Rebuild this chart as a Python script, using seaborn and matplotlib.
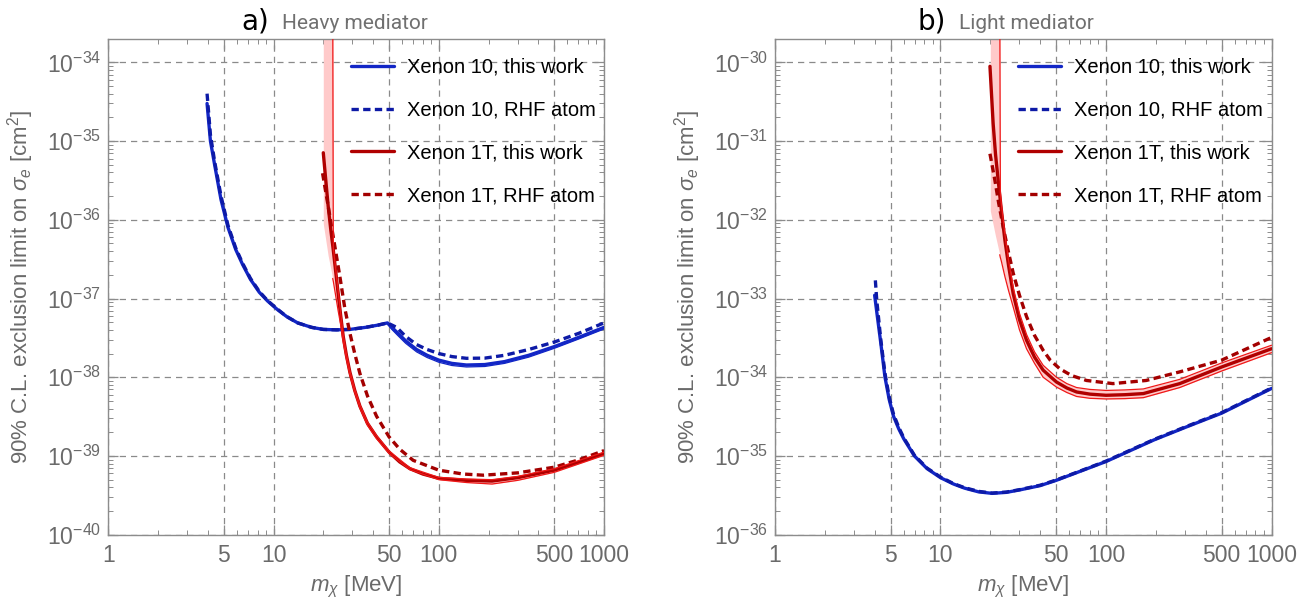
import matplotlib
matplotlib.use('Agg')
import matplotlib.pyplot as plt
import seaborn as sns
from matplotlib.ticker import LogLocator, NullFormatter

sns.set_style('ticks')
plt.rcParams['font.family'] = ['Liberation Sans', 'DejaVu Sans']
plt.rcParams['mathtext.fontset'] = 'custom'
plt.rcParams['mathtext.rm'] = 'Liberation Sans'
plt.rcParams['mathtext.it'] = 'Liberation Sans:italic'
plt.rcParams['mathtext.bf'] = 'Liberation Sans:bold'

# %% data (m_chi in MeV, sigma_e in cm^2)
# ---- a) heavy mediator
h_x10_m = [3.96, 4.15, 4.4, 4.81, 5.3, 5.9, 6.5, 7.25, 8.2, 9.2, 10.5, 12, 14, 17, 20, 24, 29, 36, 43, 48.9,
           52, 56, 63, 73.4, 85, 100, 120, 147, 190, 250, 350, 500, 700, 1000]
h_x10_s = [3.0e-35, 1.0e-35, 5.0e-36, 1.8e-36, 8.0e-37, 4.2e-37, 2.7e-37, 1.75e-37, 1.2e-37, 9.3e-38,
           7.3e-38, 5.9e-38, 4.9e-38, 4.3e-38, 4.05e-38, 4.0e-38, 4.05e-38, 4.3e-38, 4.6e-38, 4.9e-38,
           4.3e-38, 3.7e-38, 2.9e-38, 2.25e-38, 1.9e-38, 1.65e-38, 1.5e-38, 1.43e-38, 1.45e-38, 1.58e-38,
           1.9e-38, 2.45e-38, 3.2e-38, 4.3e-38]
h_x10_lo_m = [48.9, 52, 56, 63, 73.4, 85, 100, 120, 147, 190, 250, 350, 500, 700, 1000]
h_x10_lo_s = [4.75e-38, 4.05e-38, 3.45e-38, 2.7e-38, 2.1e-38, 1.78e-38, 1.55e-38, 1.41e-38, 1.35e-38,
              1.37e-38, 1.5e-38, 1.8e-38, 2.33e-38, 3.05e-38, 4.1e-38]
h_x10_rhf_m = [3.96, 4.15, 4.4, 4.81, 5.3, 5.9, 6.5, 7.25, 8.2, 9.2, 10.5, 12, 14, 17, 20, 24, 29, 36, 43,
               48.9, 55.6, 63, 73.4, 85, 100, 120, 147, 190, 250, 350, 500, 700, 1000]
h_x10_rhf_s = [4.0e-35, 1.2e-35, 5.5e-36, 2.0e-36, 8.5e-37, 4.4e-37, 2.8e-37, 1.8e-37, 1.23e-37, 9.4e-38,
               7.4e-38, 5.9e-38, 4.9e-38, 4.3e-38, 4.05e-38, 4.0e-38, 4.05e-38, 4.3e-38, 4.6e-38, 4.9e-38,
               4.3e-38, 3.3e-38, 2.6e-38, 2.25e-38, 2.0e-38, 1.83e-38, 1.74e-38, 1.75e-38, 1.9e-38,
               2.25e-38, 2.8e-38, 3.6e-38, 4.9e-38]

h_x1t_m = [20, 20.7, 21.4, 22.2, 23, 24.6, 25.5, 26.4, 27.6, 29, 31, 33.3, 37, 42, 50, 58, 66.8, 80, 100,
           147, 210, 300, 500, 700, 1000]
h_x1t_s = [7.1e-36, 3.2e-36, 1.5e-36, 7.5e-37, 4.1e-37, 1.16e-37, 6.0e-38, 3.3e-38, 1.9e-38, 1.15e-38,
           6.8e-39, 4.3e-39, 2.6e-39, 1.75e-39, 1.12e-39, 8.4e-40, 6.9e-40, 5.9e-40, 5.2e-40,
           4.9e-40, 4.8e-40, 5.3e-40, 6.6e-40, 8.3e-40, 1.07e-39]
h_band_m = [20, 21.4, 22.8, 23.0, 24.6, 25.5, 26.4, 27.6, 29, 31, 33.3, 37, 42, 50, 66.8, 100, 147, 210,
            300, 500, 1000]
h_band_hi = [1e-33, 1e-33, 1e-33, 4.4e-37, 1.25e-37, 6.4e-38, 3.5e-38, 2.0e-38, 1.2e-38, 7.1e-39, 4.5e-39,
             2.7e-39, 1.82e-39, 1.16e-39, 7.1e-40, 5.35e-40, 5.1e-40, 5.0e-40, 5.5e-40, 6.9e-40, 1.12e-39]
h_band_lo = [8.9e-37, 3.5e-37, 1.8e-37, 1.65e-37, 7.0e-38, 4.6e-38, 2.8e-38, 1.7e-38, 1.05e-38, 6.4e-39,
             4.05e-39, 2.45e-39, 1.66e-39, 1.08e-39, 6.7e-40, 5.0e-40, 4.6e-40, 4.4e-40, 4.9e-40, 6.2e-40,
             1.02e-39]
h_x1t_rhf_m = [19.8, 21.4, 23, 25.2, 27, 29, 31, 33.3, 37, 42, 50, 58, 70, 100, 140, 186, 300, 500, 700, 1000]
h_x1t_rhf_s = [3.9e-36, 1.5e-36, 6.0e-37, 1.9e-37, 7.5e-38, 3.6e-38, 2.0e-38, 1.12e-38, 5.8e-39, 3.2e-39,
               1.75e-39, 1.22e-39, 8.8e-40, 6.6e-40, 5.9e-40, 5.7e-40, 6.1e-40, 7.2e-40, 8.9e-40, 1.17e-39]

# ---- b) light mediator
l_x10_m = [4.0, 4.15, 4.35, 4.62, 4.9, 5.2, 5.6, 6.0, 6.96, 8.3, 10, 12, 14, 17, 20.5, 25, 30, 40, 50, 70,
           100, 195, 300, 500, 1000]
l_x10_s = [1.1e-33, 6.0e-34, 2.8e-34, 1.0e-34, 5.2e-35, 3.2e-35, 2.2e-35, 1.65e-35, 1.0e-35, 6.9e-36,
           5.3e-36, 4.4e-36, 3.9e-36, 3.5e-36, 3.35e-36, 3.45e-36, 3.7e-36, 4.2e-36, 4.9e-36, 6.4e-36,
           8.5e-36, 1.6e-35, 2.3e-35, 3.5e-35, 7.2e-35]
l_x10_rhf_m = [4.04, 4.12, 4.35, 4.62, 4.9, 5.2, 5.6, 6.0, 6.96, 8.3, 10, 12, 14, 17, 20.5, 25, 30, 40, 50,
               70, 100, 195, 300, 500, 1000]
l_x10_rhf_s = [1.7e-33, 9.5e-34, 3.1e-34, 1.12e-34, 5.6e-35, 3.4e-35, 2.3e-35, 1.7e-35, 1.02e-35, 7.0e-36,
               5.4e-36, 4.45e-36, 3.95e-36, 3.55e-36, 3.38e-36, 3.48e-36, 3.73e-36, 4.25e-36, 4.95e-36,
               6.45e-36, 8.6e-36, 1.62e-35, 2.33e-35, 3.55e-35, 7.3e-35]

l_x1t_m = [19.9, 20.3, 20.8, 21.5, 22.3, 23.3, 24.5, 25.8, 27.5, 30, 33.1, 37, 41.7, 50.2, 58, 66.4, 80,
           100, 130, 168, 279, 500, 1000]
l_x1t_s = [8.9e-31, 4.2e-31, 1.67e-31, 6.8e-32, 3.2e-32, 1.35e-32, 5.5e-33, 2.6e-33, 1.15e-33, 5.4e-34,
           2.95e-34, 1.8e-34, 1.23e-34, 8.7e-35, 7.3e-35, 6.5e-35, 6.1e-35, 5.9e-35, 6.0e-35, 6.2e-35,
           8.3e-35, 1.35e-34, 2.3e-34]
l_band_m = [20.0, 21.4, 22.8, 23.0, 23.3, 24.5, 25.8, 27.5, 30, 33.1, 37, 41.7, 50.2, 58, 66.4, 80, 100,
            130, 168, 279, 500, 1000]
l_band_hi = [1e-29, 1e-29, 1e-29, 2.2e-32, 1.6e-32, 6.5e-33, 3.0e-33, 1.38e-33, 6.5e-34, 3.5e-34, 2.1e-34,
             1.42e-34, 1.0e-34, 8.3e-35, 7.4e-35, 7.0e-35, 6.8e-35, 6.9e-35, 7.1e-35, 9.4e-35, 1.52e-34,
             2.55e-34]
l_band_lo = [1.3e-32, 6.5e-33, 3.6e-33, 3.3e-33, 3.0e-33, 1.9e-33, 1.25e-33, 7.8e-34, 4.0e-34, 2.3e-34,
             1.5e-34, 1.0e-34, 7.5e-35, 6.4e-35, 5.7e-35, 5.4e-35, 5.3e-35, 5.35e-35, 5.5e-35, 7.4e-35,
             1.2e-34, 2.05e-34]
l_x1t_rhf_m = [19.9, 21.3, 22.5, 23.9, 25.6, 27.5, 30, 33.1, 37, 41.7, 46, 52.6, 62, 76.2, 110, 175, 279,
               500, 1000]
l_x1t_rhf_s = [6.9e-32, 3.2e-32, 1.6e-32, 8.2e-33, 4.1e-33, 2.1e-33, 1.1e-33, 5.9e-34, 3.4e-34, 2.2e-34,
               1.65e-34, 1.28e-34, 1.05e-34, 9.1e-35, 8.3e-35, 9.1e-35, 1.17e-34, 1.65e-34, 3.2e-34]

labels = ['Xenon 10, this work', 'Xenon 10, RHF atom', 'Xenon 1T, this work', 'Xenon 1T, RHF atom']
x_ticks = [1, 5, 10, 50, 100, 500, 1000]
x_ticklabels = ['1', '5', '10', '50', '100', '500', '1000']
h_yticks = [1e-40, 1e-39, 1e-38, 1e-37, 1e-36, 1e-35, 1e-34]
l_yticks = [1e-36, 1e-35, 1e-34, 1e-33, 1e-32, 1e-31, 1e-30]

# %% styling
BLUE = '#1226c6'
BLUE_D = '#0d1aa6'
RED = '#b00000'
RED_D = '#a30000'
RED_EDGE = '#f01818'
PINK = '#ffcaca'
GRAY = '#6a6a6a'
DASH = (0, (2.2, 1.3))


def line(ax, x, y, **kw):
    sns.lineplot(x=x, y=y, ax=ax, estimator=None, sort=False, legend=False, **kw)
    return ax.lines[-1]


def panel(ax, tag, name, ylim, yticks, x10, x10_rhf, x1t, x1t_rhf, band, x10_lo=None):
    ax.set_xscale('log')
    ax.set_yscale('log')
    ax.fill_between(band[0], band[1], band[2], color=PINK, lw=0, zorder=1)
    h1 = line(ax, *x10, color=BLUE, lw=2.4, zorder=3)
    if x10_lo is not None:
        line(ax, *x10_lo, color=BLUE, lw=0.9, zorder=3)
    h2 = line(ax, *x10_rhf, color=BLUE_D, lw=2.4, linestyle=DASH, zorder=3)
    h3 = line(ax, *x1t, color=RED, lw=2.4, zorder=3)
    line(ax, band[0], band[2], color=RED_EDGE, lw=0.9, zorder=4)
    line(ax, band[0][2:], band[1][2:], color=RED_EDGE, lw=0.9, zorder=4)
    h4 = line(ax, *x1t_rhf, color=RED_D, lw=2.4, linestyle=DASH, zorder=3)

    ax.set_xlim(1, 1000)
    ax.set_ylim(*ylim)
    ax.set_xticks(x_ticks)
    ax.set_xticklabels(x_ticklabels)
    ax.xaxis.set_minor_formatter(NullFormatter())
    ax.set_yticks(yticks)
    ax.yaxis.set_minor_locator(LogLocator(base=10, subs=(2, 3, 4, 5, 6, 7, 8, 9), numticks=100))
    ax.yaxis.set_minor_formatter(NullFormatter())
    ax.set_ylim(*ylim)
    ax.grid(True, which='major', ls=(0, (5, 4)), color='#8a8a8a', lw=0.9)
    ax.tick_params(which='both', direction='in', top=True, right=True, color='#8c8c8c',
                   labelcolor=GRAY, labelsize=16.5)
    ax.tick_params(which='major', length=7, width=0.9)
    ax.tick_params(which='minor', length=3.5, width=0.7)
    ax.tick_params(axis='x', pad=7)
    ax.tick_params(axis='y', pad=5)
    for sp in ax.spines.values():
        sp.set_color('#8c8c8c')
        sp.set_linewidth(1.0)

    ax.set_ylabel(r'90% C.L. exclusion limit on $\sigma_e$ [cm$^2$]', fontsize=16, color=GRAY)
    ax.yaxis.set_label_coords(-0.145, 0.5)
    ax.set_xlabel(r'$m_\chi$ [MeV]', fontsize=16, color=GRAY, va='top')
    ax.xaxis.set_label_coords(0.5, -0.08)

    ax.text(tag[1], 1.02, tag[0], transform=ax.transAxes, ha='right', va='baseline',
            fontsize=20, family='DejaVu Sans', color='black')
    ax.text(tag[1] + 0.026, 1.02, name, transform=ax.transAxes, ha='left', va='baseline',
            fontsize=15, family='Roboto', color='#707070')

    leg = ax.legend([h1, h2, h3, h4], labels, loc='upper left', bbox_to_anchor=(0.49, 0.962),
                    frameon=False, fontsize=14.5, handlelength=2.1, handletextpad=0.65,
                    labelspacing=1.18, borderpad=0, borderaxespad=0)
    for t in leg.get_texts():
        t.set_color('black')


fig = plt.figure(figsize=(13.08, 6.05), dpi=100)
ax1 = fig.add_axes([0.0828, 0.1162, 0.3790, 0.8193])
ax2 = fig.add_axes([0.5925, 0.1162, 0.3796, 0.8193])

panel(ax1, ('a)', 0.324), 'Heavy mediator', (1e-40, 10 ** -33.704), h_yticks,
      (h_x10_m, h_x10_s), (h_x10_rhf_m, h_x10_rhf_s), (h_x1t_m, h_x1t_s),
      (h_x1t_rhf_m, h_x1t_rhf_s), (h_band_m, h_band_lo, h_band_hi),
      x10_lo=(h_x10_lo_m, h_x10_lo_s))
panel(ax2, ('b)', 0.345), 'Light mediator', (1e-36, 10 ** -29.704), l_yticks,
      (l_x10_m, l_x10_s), (l_x10_rhf_m, l_x10_rhf_s), (l_x1t_m, l_x1t_s),
      (l_x1t_rhf_m, l_x1t_rhf_s), (l_band_m, l_band_lo, l_band_hi))

fig.savefig('out.png', dpi=100, facecolor='white')
